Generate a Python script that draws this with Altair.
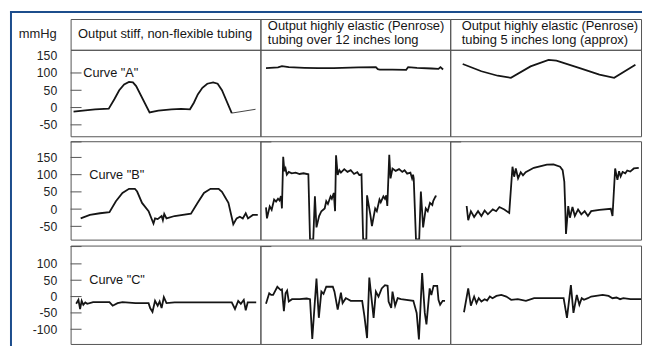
import altair as alt
import pandas as pd

# ---------------- data (x: time across a panel 0..194, y: mmHg) ----------------
# Row 1: Curve "A"
A1_X = [3, 15, 25, 39, 44.7, 49.7, 54.7, 59.7, 63.7, 67, 80.7, 89.7, 103, 113, 122,
        126, 130, 134.7, 139.7, 145.7, 150.3, 154.7, 164.7]
A1_Y = [-12, -8, -5, -3, 24, 50, 67, 74, 73, 62, -14, -9, -5, -4, -5,
        14, 38, 57, 69, 73, 69, 50, -16]
A1_TAIL_X = [164.7, 189]
A1_TAIL_Y = [-16, -5]

A2_X = [5.7, 18, 22, 29, 45, 59, 75, 100, 118, 120, 122, 135, 149, 151, 160, 175, 182, 184, 186.7]
A2_Y = [114, 116, 120, 117, 115, 114, 114, 116, 117, 111, 110, 110, 109, 117, 115, 113, 112, 117, 110]

A3_X = [12.7, 31.7, 48.3, 61.7, 81.7, 100, 108, 131.7, 151.7, 166.7, 188.3]
A3_Y = [126, 105, 92, 86, 119, 138, 136, 114, 95, 86, 124]

# Row 2: Curve "B"
B1_X = [10.3, 19.7, 30, 39.7, 46.3, 53, 59.7, 65.7, 68, 73, 79.7, 84.7, 86.3, 89, 93, 94.3,
        95.7, 98, 106.3, 123, 129.7, 136.3, 143, 151.3, 154.7, 161.3, 166.3, 169.7, 173,
        176, 179, 181.3, 186.3, 191.3]
B1_Y = [-27, -17, -12, -9, 23, 47, 59, 59, 51, 18, -6, -42, -27, -29, -20, -32,
        -14, -27, -20, -13, 18, 47, 59, 59, 50, 18, -44, -27, -22,
        -27, -12, -27, -17, -17]

B2_X = [5.7, 6.7, 9.5, 11.5, 14, 16, 18, 19.5, 21, 22, 23.3, 24.5, 25.7, 27, 29, 32, 36, 40,
        44, 49, 50.7, 54, 55.7, 57.3, 60, 62.3, 65.7, 67.3, 69, 71.7, 73, 75, 76.3, 77.3,
        79, 80.7, 82.3, 85.7, 89, 92.3, 95.7, 99, 101, 103.3, 105, 108.3, 109, 112.3, 114,
        117.3, 119, 121.7, 123, 125.7, 127.3, 128.7, 129.7, 131.7, 133, 135, 138.3, 141.7,
        145, 147.3, 150, 153.3, 155, 156, 156.7, 159, 162.3, 164, 166.3, 169, 171, 173.3,
        175.7, 176.7, 179, 180]
B2_Y = [5, -27, 8, -2, 28, 22, 30, 25, 38, 2, 152, 110, 118, 100, 108, 104, 106, 102,
        104, 101, -88, -88, 37, -53, -20, -6, 2, 23, 15, 37, 30, 47, -6, 156,
        99, 113, 106, 116, 108, 113, 102, 107, 99, 101, -88, -88, 40, -15, -49,
        2, -6, 28, 20, 37, 30, 40, 9, 158, 89, 118, 111, 116,
        108, 113, 103, 106, 89, 100, 89, -88, -88, 51, -53, 2, -6, 18,
        12, 24, 37, 36]

B3_X = [16.7, 18.3, 21, 24.3, 28.3, 31.7, 35, 38.3, 43.3, 46.7, 50, 55, 60, 63.3, 65, 66.7,
        69, 71.7, 74, 76.7, 85, 98.3, 105, 111.7, 114.3, 116, 117, 117.7, 120, 121.7, 124.3,
        126.7, 130, 133.3, 136.7, 140, 143.3, 151.7, 163.3, 165, 167.7, 170, 171.7, 173.3,
        175.3, 178, 180, 183, 186.7, 191.7]
B3_Y = [9, -32, -6, -23, -6, -20, -4, -15, -1, -6, 6, -1, -11, 123, 94, 118,
        89, 107, 98, 107, 120, 129, 130, 123, 113, 80, 0, -72, 9, -25, 6,
        -20, -1, -15, -6, -20, -6, -2, 1, -20, 118, 85, 110, 95,
        108, 104, 112, 109, 118, 120]

# Row 3: Curve "C"
C1_X = [5.7, 8, 9.7, 11.3, 13, 15, 17, 23, 33, 39.7, 43, 48, 53, 66.3, 79.7, 81.3, 83.7,
        86.3, 89, 91, 93, 95.3, 98, 106.3, 133, 164.7, 168, 171.3, 174, 177, 179, 181, 189.7]
C1_Y = [-22, -10, -38, -13, -25, -18, -22, -17, -17, -17, -28, -20, -17, -20, -20, -35, -47,
        -13, -28, -15, -35, -2, -20, -18, -18, -18, -38, -13, -22, -10, -42, -18, -18]

C2_X = [5.7, 9, 11, 13, 17.3, 20.7, 22, 24, 25.7, 27.3, 29, 32.3, 40, 47.3, 50.7, 53, 57.3,
        59.7, 62.3, 64.5, 67.3, 74, 75.7, 79, 82.3, 84, 87.3, 89.5, 92.3, 104, 106.3, 109,
        111.3, 115.7, 118, 120.7, 124, 127.3, 130, 131, 133.7, 135, 137.7, 140.3, 143.7,
        156.3, 159.7, 162, 165.3, 168, 169.7, 173, 174.7, 177, 180.7, 182, 183.7, 186.3, 188.7]
C2_Y = [-22, 10, 5, 5, 30, 20, 22, -45, 10, 18, -15, -8, -8, -6, -8, -130, 55,
        -65, 15, 8, 30, 30, 15, -40, 12, -20, -5, -8, -13, -13, -60, -127,
        58, -65, 15, 0, 25, 35, 33, -15, -35, 15, -28, -5, -8,
        -13, -50, -131, 72, -50, -85, 25, 5, 33, 33, -10, -25, -13, -13]

C3_X = [14, 18.3, 21, 24.3, 26.7, 29, 31.7, 35, 37.5, 40.3, 43, 47, 52, 57, 62, 68.7, 77,
        85.3, 115.3, 118.7, 122.7, 125.3, 128.7, 131.3, 133.7, 136, 140, 143.3, 148.3, 155,
        161, 165, 169, 172.7, 176, 183.3, 194]
C3_Y = [-48, 25, -28, 0, -20, -5, -15, -8, -12, 0, -5, 2, 5, 0, -10, -8, -13,
        -5, -5, -65, 35, -50, 5, -25, -5, -10, -5, 0, 2, 5,
        2, -5, -3, -8, -5, -8, -8]

HEADERS = [
    ["Output stiff, non-flexible tubing"],
    ["Output highly elastic (Penrose)", "tubing over 12 inches long"],
    ["Output highly elastic (Penrose)", "tubing 5 inches long (approx)"],
]
UNIT_LABEL = "mmHg"
CURVE_LABELS = ['Curve "A"', 'Curve "B"', 'Curve "C"']
CURVE_LABEL_X = [13, 19, 19]
CURVE_LABEL_Y = [100, 100, 50]

AXIS_VALUES = [[150, 100, 50, 0, -50], [150, 100, 50, 0, -50], [100, 50, 0, -50, -100]]
TICK_VALUES = [[100, 50, 0, -50], [195, 150, 100, 50, 0, -50], [153, 100, 50, 0, -50, -100]]
CORNER_TICKS = [None, 195, 153]
Y_DOMAINS = [[-83, 167], [-88.5, 197], [-145, 156]]

# ---------------- style / layout ----------------
FONT = "Liberation Sans"
BLUE = "#1c4d8c"
GRAY = "#555555"
INK = "#151515"
COL_W = [191, 191, 192]
HEAD_H = 31
ROW_H = [87, 99, 99]
GAPS = [5, 6]
X_DOMAIN = [0, 194]


def panel(xs, ys, row, col, tail=None):
    ydom = Y_DOMAINS[row]
    yscale = alt.Scale(domain=ydom, nice=False, zero=False)
    xscale = alt.Scale(domain=X_DOMAIN, nice=False, zero=False)
    if col == 0:
        yaxis = alt.Axis(values=AXIS_VALUES[row], ticks=False, domain=False, grid=False,
                         labelPadding=14, title=None, labelExpr="'' + datum.value",
                         labelFontSize=12.3, labelColor="#222222", labelFont=FONT)
    else:
        yaxis = None
    df = pd.DataFrame({"t": xs, "p": ys, "i": list(range(len(xs)))})
    layers = [
        alt.Chart(df).mark_line(color=INK, strokeWidth=1.8, clip=True).encode(
            x=alt.X("t:Q", scale=xscale, axis=None),
            y=alt.Y("p:Q", scale=yscale, axis=yaxis),
            order="i:O",
        )
    ]
    if tail is not None:
        tdf = pd.DataFrame({"t": tail[0], "p": tail[1]})
        layers.append(
            alt.Chart(tdf).mark_line(color=INK, strokeWidth=0.8, clip=True).encode(
                x=alt.X("t:Q", scale=xscale, axis=None),
                y=alt.Y("p:Q", scale=yscale, axis=yaxis),
            )
        )
    ticks = TICK_VALUES[row] if col == 0 else ([CORNER_TICKS[row]] if CORNER_TICKS[row] is not None else [])
    if ticks:
        kdf = pd.DataFrame({"p": ticks})
        layers.append(
            alt.Chart(kdf).mark_rule(color=GRAY, strokeWidth=1).encode(
                y=alt.Y("p:Q", scale=yscale, axis=yaxis),
                x=alt.value(0), x2=alt.value(11),
            )
        )
    if col == 0:
        ldf = pd.DataFrame({"t": [CURVE_LABEL_X[row]], "p": [CURVE_LABEL_Y[row]],
                            "s": [CURVE_LABELS[row]]})
        layers.append(
            alt.Chart(ldf).mark_text(align="left", baseline="middle", font=FONT,
                                     fontSize=12.8, color=INK).encode(
                x=alt.X("t:Q", scale=xscale, axis=None),
                y=alt.Y("p:Q", scale=yscale, axis=yaxis),
                text="s:N",
            )
        )
    return alt.layer(*layers).properties(width=COL_W[col], height=ROW_H[row])


def header(col):
    df = pd.DataFrame({"k": [0]})
    lines = HEADERS[col]
    txt_val = lines[0] if len(lines) == 1 else lines
    layers = [
        alt.Chart(df).mark_text(align="left", baseline="middle", font=FONT, fontSize=13,
                                color=INK, lineHeight=13.4).encode(
            x=alt.value(7.5 if col < 2 else 11.5),
            y=alt.value(15 if len(lines) == 1 else 7.5),
            text=alt.value(txt_val),
        )
    ]
    if col == 0:
        layers.append(
            alt.Chart(df).mark_text(align="right", baseline="middle", font=FONT, fontSize=13,
                                    color="#222222").encode(
                x=alt.value(-14), y=alt.value(15), text=alt.value(UNIT_LABEL)
            )
        )
        # the blue figure frame (left and top edges)
        layers.append(
            alt.Chart(df).mark_rule(color=BLUE, strokeWidth=2).encode(
                x=alt.value(-60), y=alt.value(-8), y2=alt.value(329)
            )
        )
        layers.append(
            alt.Chart(df).mark_rule(color=BLUE, strokeWidth=2).encode(
                x=alt.value(-61), x2=alt.value(575), y=alt.value(-7)
            )
        )
    return alt.layer(*layers).properties(width=COL_W[col], height=HEAD_H)


def spacer(h):
    return alt.Chart(pd.DataFrame({"k": [0]})).mark_point(size=0, opacity=0).properties(
        width=1, height=h, view=alt.ViewBackground(stroke="transparent", strokeWidth=0)
    )


curves = [
    [(A1_X, A1_Y), (A2_X, A2_Y), (A3_X, A3_Y)],
    [(B1_X, B1_Y), (B2_X, B2_Y), (B3_X, B3_Y)],
    [(C1_X, C1_Y), (C2_X, C2_Y), (C3_X, C3_Y)],
]

cells = [header(c) for c in range(3)]
for r in range(3):
    if r > 0:
        cells += [spacer(GAPS[r - 1]) for _ in range(3)]
    for c in range(3):
        xs, ys = curves[r][c]
        tail = (A1_TAIL_X, A1_TAIL_Y) if (r == 0 and c == 0) else None
        cells.append(panel(xs, ys, r, c, tail))

chart = (
    alt.concat(*cells, columns=3, spacing=0, bounds="flush", align="each")
    .properties(padding=0, background="white")
    .configure_view(stroke=GRAY, strokeWidth=1)
    .configure_text(font=FONT)
)

chart.save("out.html", embed_options={"renderer": "svg", "actions": False})
